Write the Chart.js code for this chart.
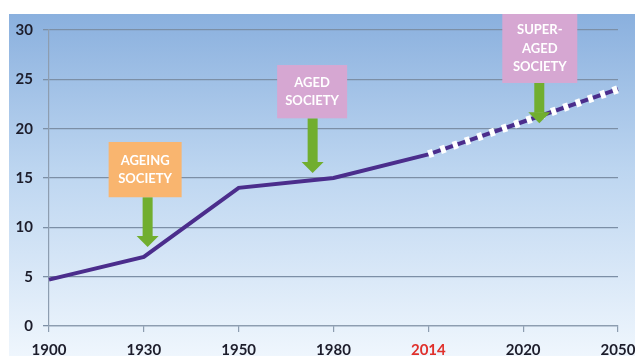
<!DOCTYPE html>
<html>
<head>
<meta charset="utf-8">
<script src="https://cdn.jsdelivr.net/npm/chart.js@4.4.1/dist/chart.umd.min.js"></script>
<style>
  html, body { margin: 0; padding: 0; background: #ffffff; }
  #wrap { width: 635px; height: 356px; }
</style>
</head>
<body>
<div id="wrap"><canvas id="c" width="635" height="356"></canvas></div>
<script>
// Share of population aged 65+ (%), observed up to 2014 and projected afterwards
const years = ['1900', '1930', '1950', '1980', '2014', '2020', '2050'];
const share = [4.7, 7.0, 14.0, 15.0, 17.4, 20.7, 24.0];
const projected = [null, null, null, null, 17.4, 20.7, 24.0];
const yTicks = [0, 5, 10, 15, 20, 25, 30];
const highlightYear = '2014';

// Stage callouts: label lines, position along the year axis, value the arrow points at
const stageLabels = [['AGEING', 'SOCIETY'], ['AGED', 'SOCIETY'], ['SUPER-', 'AGED', 'SOCIETY']];
const stageAt = [1.04, 2.78, 5.17];
const stageValue = [8.0, 15.5, 20.55];

// Callout box geometry (value units for top/bottom, pixels for width) and colours
const calloutStyle = [
  { top: 18.65, bottom: 13.05, width: 73, dx: -2.5, fill: '#f9b56f' },
  { top: 26.45, bottom: 21.05, width: 70, dx: -0.5, fill: '#d6a7d2' },
  { top: 31.62, bottom: 24.63, width: 75, dx: 0.5, fill: '#d6a7d2' }
];

const FONT = 'Lato, "Open Sans", "DejaVu Sans", sans-serif';

const backdrop = {
  id: 'backdrop',
  beforeDraw(chart) {
    const ctx = chart.ctx;
    ctx.save();
    ctx.fillStyle = '#ffffff';
    ctx.fillRect(0, 0, chart.width, chart.height);
    const g = ctx.createLinearGradient(0, 14, 0, chart.height);
    g.addColorStop(0, '#8ab0de');
    g.addColorStop(0.45, '#bcd5f0');
    g.addColorStop(1, '#eff6fd');
    ctx.fillStyle = g;
    ctx.fillRect(9, 14, chart.width - 9, chart.height - 14);
    ctx.restore();
  }
};

const callouts = {
  id: 'callouts',
  afterDatasetsDraw(chart) {
    const ctx = chart.ctx;
    const xs = chart.scales.x, ys = chart.scales.y;
    ctx.save();
    stageLabels.forEach((lines, i) => {
      const st = calloutStyle[i];
      const ax = xs.getPixelForValue(stageAt[i]);
      const tip = ys.getPixelForValue(stageValue[i]);
      const top = ys.getPixelForValue(st.top);
      const bottom = ys.getPixelForValue(st.bottom);
      const cx = ax + st.dx;

      // arrow
      const headH = 11, headW = 22, shaftW = 10;
      ctx.fillStyle = '#71ae2f';
      ctx.fillRect(ax - shaftW / 2, bottom, shaftW, tip - headH - bottom + 0.5);
      ctx.beginPath();
      ctx.moveTo(ax - headW / 2, tip - headH);
      ctx.lineTo(ax + headW / 2, tip - headH);
      ctx.lineTo(ax, tip);
      ctx.closePath();
      ctx.fill();

      // box
      ctx.fillStyle = st.fill;
      ctx.fillRect(cx - st.width / 2, top, st.width, bottom - top);

      // text
      ctx.fillStyle = '#ffffff';
      ctx.font = 'bold 13px ' + FONT;
      ctx.textAlign = 'center';
      ctx.textBaseline = 'middle';
      const lh = 18.5;
      const mid = (top + bottom) / 2;
      lines.forEach((t, k) => {
        ctx.fillText(t, cx, mid + (k - (lines.length - 1) / 2) * lh);
      });
    });
    ctx.restore();
  }
};

new Chart(document.getElementById('c'), {
  type: 'line',
  data: {
    labels: years,
    datasets: [
      {
        label: 'Projection',
        data: projected,
        borderColor: '#ffffff',
        borderWidth: 8,
        borderDash: [5, 8],
        borderCapStyle: 'butt',
        pointRadius: 0,
        tension: 0,
        spanGaps: false
      },
      {
        label: 'Aged 65+',
        data: share,
        borderColor: '#4b2d8c',
        borderWidth: 4,
        pointRadius: 0,
        tension: 0
      }
    ]
  },
  options: {
    responsive: false,
    devicePixelRatio: 1,
    animation: false,
    layout: { padding: { left: 9, right: 17, top: 30, bottom: 0 } },
    plugins: { legend: { display: false }, tooltip: { enabled: false } },
    scales: {
      x: {
        type: 'category',
        offset: false,
        grid: { drawOnChartArea: false, drawTicks: true, tickLength: 6, color: '#8d9db0', lineWidth: 1.2 },
        border: { display: true, color: '#8d9db0', width: 1.2 },
        ticks: {
          autoSkip: false,
          maxRotation: 0,
          padding: 9,
          font: { family: FONT, size: 15, weight: 'bold' },
          color: (c) => (years[c.index] === highlightYear ? '#e0302b' : '#1d1d2b')
        },
        afterFit(s) {
          s.height = 30;
          // let the last year label run to the canvas edge
          s.paddingLeft = 0;
          s.paddingRight = 0;
        }
      },
      y: {
        min: yTicks[0],
        max: yTicks[yTicks.length - 1],
        afterBuildTicks(s) { s.ticks = yTicks.map(v => ({ value: v })); },
        grid: { color: '#7c8fa6', lineWidth: 1.3, tickLength: 6 },
        border: { display: true, color: '#8d9db0', width: 1.2 },
        ticks: {
          padding: 10,
          font: { family: FONT, size: 15, weight: 'bold' },
          color: '#1d1d2b'
        },
        afterFit(s) { s.width = 40; }
      }
    }
  },
  plugins: [backdrop, callouts]
});
</script>
</body>
</html>
